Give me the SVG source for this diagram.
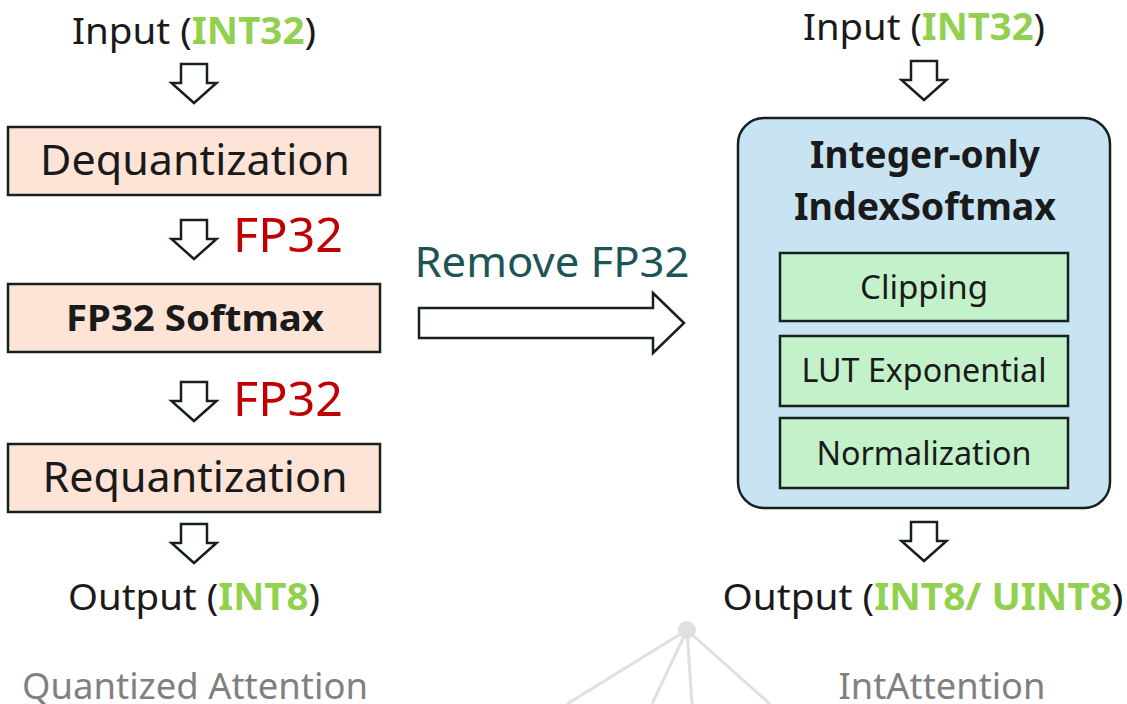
<svg xmlns="http://www.w3.org/2000/svg" width="1127" height="704" viewBox="0 0 1127 704">
<defs>
<style>
text{font-family:"Noto Sans","Open Sans","DejaVu Sans",sans-serif;fill:#1a1a1a;}
.lbl{font-size:37px;text-anchor:middle;}
.g{fill:#92d050;font-weight:bold;}
.box{fill:#fde4d6;stroke:#15201f;stroke-width:2.5;}
.grn{fill:#c3f1ca;stroke:#15201f;stroke-width:2.5;}
.arr{fill:#fff;stroke:#15201f;stroke-width:2.5;stroke-linejoin:miter;}
.red{fill:#c00000;font-size:48px;}
.cap{fill:#808080;font-size:36px;text-anchor:middle;}
</style>
<path id="dn" d="M-13,0 H13 V19 H22.5 L0,39 L-22.5,19 H-13 Z"/>
</defs>
<g id="left-input"><text class="lbl" x="194" y="44" textLength="244" lengthAdjust="spacingAndGlyphs">Input (<tspan class="g">INT32</tspan>)</text></g>
<g id="dequant"><rect class="box" x="8" y="127" width="372" height="68"/><text x="195" y="175" font-size="42" text-anchor="middle" textLength="310" lengthAdjust="spacingAndGlyphs">Dequantization</text></g>
<g id="softmax"><rect class="box" x="8" y="284" width="372" height="68"/><text x="195" y="331" font-size="35" font-weight="bold" text-anchor="middle" textLength="258" lengthAdjust="spacingAndGlyphs">FP32 Softmax</text></g>
<g id="requant"><rect class="box" x="8" y="444" width="372" height="68"/><text x="195" y="492" font-size="42" text-anchor="middle" textLength="305" lengthAdjust="spacingAndGlyphs">Requantization</text></g>
<g id="left-output"><text class="lbl" x="194" y="610" textLength="252" lengthAdjust="spacingAndGlyphs">Output (<tspan class="g">INT8</tspan>)</text></g>
<g id="fp32a"><text class="red" x="233" y="252" textLength="110" lengthAdjust="spacingAndGlyphs">FP32</text></g>
<g id="fp32b"><text class="red" x="233" y="416" textLength="110" lengthAdjust="spacingAndGlyphs">FP32</text></g>
<g id="cap-left"><text class="cap" x="195" y="699" textLength="346" lengthAdjust="spacingAndGlyphs">Quantized Attention</text></g>

<g id="right-input"><text class="lbl" x="924" y="40" textLength="242" lengthAdjust="spacingAndGlyphs">Input (<tspan class="g">INT32</tspan>)</text></g>
<g id="indexsoftmax">
<rect x="738" y="118" width="372" height="390" rx="26" fill="#c8e3f2" stroke="#15201f" stroke-width="2.5"/>
<text x="925" y="168" font-size="37" font-weight="bold" text-anchor="middle" textLength="230" lengthAdjust="spacingAndGlyphs">Integer-only</text>
<text x="925" y="220" font-size="37" font-weight="bold" text-anchor="middle" textLength="262" lengthAdjust="spacingAndGlyphs">IndexSoftmax</text>
</g>
<g id="clipping"><rect class="grn" x="780" y="253" width="288" height="68"/><text x="924" y="299" font-size="33" text-anchor="middle" textLength="128" lengthAdjust="spacingAndGlyphs">Clipping</text></g>
<g id="lut"><rect class="grn" x="780" y="336" width="288" height="70"/><text x="924" y="382" font-size="32" text-anchor="middle" textLength="245" lengthAdjust="spacingAndGlyphs">LUT Exponential</text></g>
<g id="norm"><rect class="grn" x="780" y="418" width="288" height="70"/><text x="924" y="465" font-size="32" text-anchor="middle" textLength="215" lengthAdjust="spacingAndGlyphs">Normalization</text></g>
<g id="right-output"><text class="lbl" x="923" y="610" textLength="401" lengthAdjust="spacingAndGlyphs">Output (<tspan class="g">INT8/ UINT8</tspan>)</text></g>
<g id="cap-right"><text class="cap" x="942" y="699" textLength="207" lengthAdjust="spacingAndGlyphs">IntAttention</text></g>

<g id="remove"><text x="552" y="277" font-size="42" text-anchor="middle" style="fill:#1d5557" textLength="275" lengthAdjust="spacingAndGlyphs">Remove FP32</text></g>

<g id="connectors">
<use href="#dn" class="arr" x="194" y="64"/>
<use href="#dn" class="arr" x="194" y="220"/>
<use href="#dn" class="arr" x="194" y="382"/>
<use href="#dn" class="arr" x="194" y="524"/>
<use href="#dn" class="arr" x="924" y="61"/>
<use href="#dn" class="arr" x="924" y="522"/>
<path class="arr" d="M419,308 H653 V293 L684,323 L653,353 V338 H419 Z"/>
</g>

<g id="decor" stroke="#e0e0e0" stroke-width="3" fill="none">
<line x1="687" y1="630" x2="567" y2="704"/>
<line x1="687" y1="630" x2="652" y2="704"/>
<line x1="687" y1="630" x2="692" y2="704"/>
<line x1="687" y1="630" x2="770" y2="704"/>
<circle cx="687" cy="630" r="9" fill="#e0e0e0" stroke="none"/>
</g>
</svg>
